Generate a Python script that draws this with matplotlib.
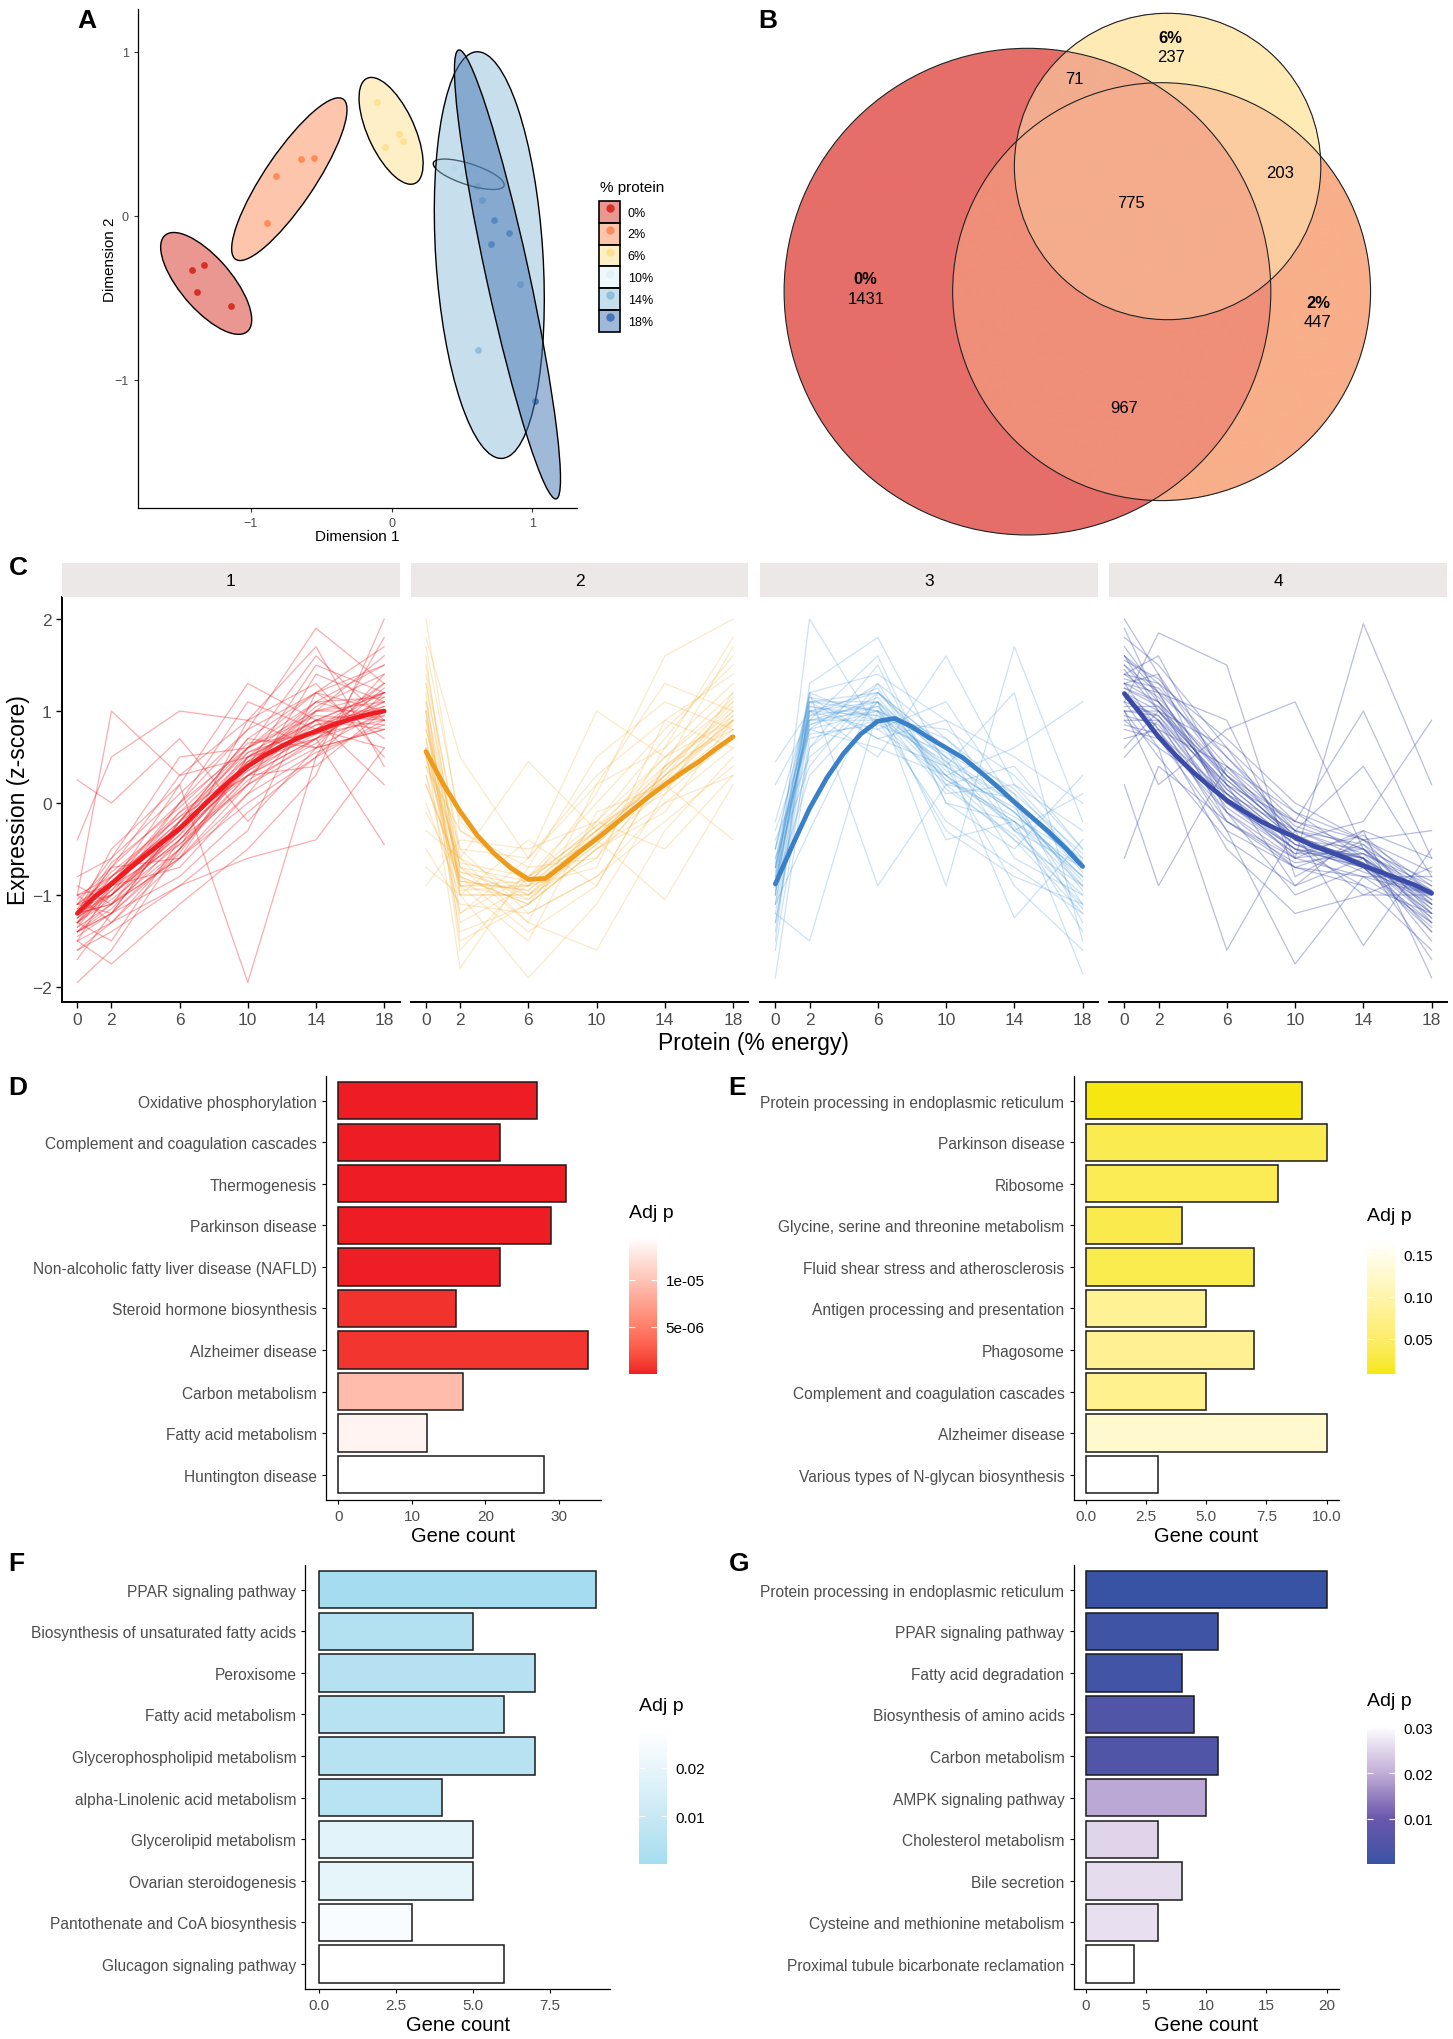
import numpy as np
import matplotlib
matplotlib.use("Agg")
import matplotlib.pyplot as plt
from matplotlib.patches import Ellipse, Circle, Patch
from matplotlib.lines import Line2D
from matplotlib.colors import ListedColormap, Normalize, to_rgb, to_rgba
from matplotlib.cm import ScalarMappable

plt.rcParams['font.family'] = ['Liberation Sans', 'DejaVu Sans']

W, H = 1453, 2040
GREY = '#4D4D4D'

# ------------------------------
# Data
# ------------------------------
# A) MDS of samples
protein_groups = ['0%', '2%', '6%', '10%', '14%', '18%']
group_colors = ['#D73027', '#FC8D59', '#FEE090', '#E0F3F8', '#91BFDB', '#4575B4']
dim1 = [[-1.416, -1.329, -1.378, -1.141],
        [-0.644, -0.552, -0.821, -0.886],
        [-0.103, 0.052, 0.082, -0.046],
        [0.44, 0.50, 0.60, 0.65],
        [0.606, 0.644, 0.913, 0.611],
        [0.728, 0.834, 0.709, 1.019]]
dim2 = [[-0.331, -0.301, -0.466, -0.551],
        [0.348, 0.350, 0.239, -0.047],
        [0.694, 0.500, 0.457, 0.417],
        [0.29, 0.24, 0.27, 0.21],
        [0.182, 0.094, -0.417, -0.818],
        [-0.026, -0.103, -0.175, -1.126]]

# B) Venn counts
venn_sets = ['0%', '2%', '6%']
only_0, only_2, only_6 = 1431, 447, 237
both_0_2, both_0_6, both_2_6 = 967, 71, 203
all_three = 775

# C) expression clusters
protein_levels = [0, 2, 6, 10, 14, 18]
cluster_ids = ['1', '2', '3', '4']
c1_genes = [
    [-1.2, -1.0, -0.3, 0.5, 0.9, 1.0], [-1.4, -1.2, -0.5, 0.3, 0.8, 1.1],
    [-1.0, -0.8, -0.1, 0.6, 1.1, 0.9], [-1.6, -1.3, -0.6, 0.2, 0.7, 1.3],
    [-1.1, -0.6, 0.1, 0.8, 1.2, 0.7], [-1.3, -1.5, -0.4, 0.4, 1.5, 1.2],
    [-0.9, -1.1, -0.2, 0.7, 0.6, 1.4], [-1.5, -0.9, -0.7, 0.1, 1.0, 1.6],
    [-1.2, -0.7, 0.3, 0.9, 1.3, 0.5], [-1.95, -1.6, -0.5, 0.4, 1.0, 1.2],
    [-1.1, -1.2, -0.8, -0.1, 0.5, 1.8], [-1.4, -1.0, 0.0, 1.1, 0.8, 0.6],
    [-0.4, 0.5, 1.0, 0.9, 1.7, 0.4], [-1.3, -0.8, -0.3, 0.3, 0.4, 1.0],
    [-1.0, -1.3, -0.9, -0.3, 1.2, 1.5], [-1.7, -1.2, -0.2, 0.6, 1.6, 0.9],
    [-1.2, -0.5, 0.2, 1.3, 0.9, 0.2], [-1.5, -1.75, -1.1, -0.5, 0.3, 2.0],
    [0.25, 0.0, 0.7, -0.2, 0.6, 0.8], [-1.2, -0.9, 0.2, -1.95, 0.5, 0.9],
    [-1.0, 1.0, 0.3, 0.5, 0.9, 1.2], [-1.1, -1.0, -0.4, 0.2, 1.4, 1.1],
    [-1.4, -1.1, -0.6, 0.5, 0.7, -0.45], [-1.3, -0.9, 0.0, 0.8, 1.9, 1.3],
    [-1.6, -1.4, -0.9, -0.6, -0.4, 0.6], [-1.2, -1.1, -0.3, 0.4, 1.1, 1.5],
    [-0.8, -0.6, 0.5, 0.6, 1.0, 1.0], [-1.5, -1.3, -0.5, 0.9, 0.6, 0.8],
    [-1.2, -0.7, -0.6, 0.0, 0.5, 1.2], [-1.4, -1.2, -0.2, 0.7, 1.2, 1.7],
    [-1.25, -0.95, -0.35, 0.35, 0.75, 1.05], [-1.1, -0.85, -0.2, 0.5, 0.85, 0.95],
    [-1.3, -1.05, -0.45, 0.3, 0.7, 1.15], [-1.15, -0.75, -0.15, 0.55, 0.9, 0.85],
    [-1.35, -0.9, -0.3, 0.45, 1.0, 1.1], [-1.2, -1.1, -0.5, 0.25, 0.65, 1.25],
    [-1.05, -0.7, 0.0, 0.6, 0.95, 0.9], [-1.4, -1.15, -0.4, 0.4, 0.8, 1.2],
    [-1.2, -0.8, -0.25, 0.45, 0.7, 0.95], [-1.3, -0.95, -0.1, 0.35, 0.85, 1.05],
    [-1.15, -1.0, -0.35, 0.55, 0.8, 1.3], [-1.25, -0.85, -0.2, 0.3, 0.9, 0.8],
    [-1.0, -0.9, -0.45, 0.2, 0.6, 1.0], [-1.45, -1.2, -0.55, 0.5, 1.1, 1.15],
    [-1.2, -0.65, -0.05, 0.65, 0.75, 0.9], [-1.3, -1.0, -0.3, 0.4, 1.05, 1.4],
    [-1.1, -0.8, -0.15, 0.3, 0.7, 1.1], [-1.35, -1.1, -0.6, 0.1, 0.55, 0.85],
    [-1.2, -0.9, -0.25, 0.6, 1.2, 1.0], [-1.25, -1.0, -0.4, 0.45, 0.9, 1.2],
]
c2_genes = [
    [0.5, -0.9, -0.9, -0.4, 0.2, 0.8], [1.5, -0.6, -1.0, -0.3, 0.5, 1.2],
    [2.0, -0.3, -0.7, -0.6, 0.3, 0.9], [1.0, -1.2, -0.8, 0.0, 0.8, 1.5],
    [-0.5, -1.1, -1.2, -0.8, -0.2, 0.4], [0.8, -0.5, -0.6, 0.2, 0.6, 1.8],
    [1.2, -1.5, -1.1, -0.5, 0.0, 0.6], [0.2, -0.8, -1.4, -0.9, 0.4, 1.0],
    [-0.9, -0.4, -0.5, -0.2, -0.5, 0.3], [1.7, -0.2, -0.9, -0.7, 0.9, 1.4],
    [0.0, -1.0, -1.9, -1.1, 0.1, 0.7], [0.6, -1.8, -0.7, 0.5, 1.1, 0.8],
    [1.3, -0.7, -1.3, -1.6, -0.3, 0.5], [-0.3, -0.6, 0.45, -0.3, 0.3, 1.1],
    [0.9, -1.3, -0.9, 0.1, 1.6, 2.0], [0.4, -0.3, -0.8, -0.4, -1.05, 0.2],
    [1.8, 0.5, -0.6, 1.0, 0.5, 0.9], [-0.7, -1.0, -1.0, -0.6, 0.6, 1.3],
    [1.1, -0.9, -1.5, -0.1, 0.2, -0.4], [0.7, -1.4, -1.1, -0.2, 0.7, 1.6],
    [1.4, -0.5, -1.2, -0.8, 0.0, 0.3], [0.3, -1.2, -0.6, 0.3, 0.9, 0.6],
    [-0.1, -0.8, -1.1, -0.5, -0.1, 0.9], [1.6, -1.0, -0.4, -0.9, 0.4, 1.7],
    [0.5, -0.6, -1.3, 0.2, 1.3, 1.0], [1.0, -1.6, -0.8, -0.3, 0.1, 1.2],
    [0.6, -0.85, -0.95, -0.35, 0.3, 0.9], [0.9, -0.75, -1.0, -0.45, 0.25, 1.0],
    [0.3, -0.9, -0.85, -0.25, 0.4, 0.8], [1.1, -0.7, -1.05, -0.4, 0.2, 0.95],
    [0.5, -0.95, -0.9, -0.3, 0.35, 1.05], [0.8, -0.8, -1.1, -0.5, 0.15, 0.75],
    [0.4, -0.65, -0.8, -0.2, 0.5, 1.1], [1.3, -0.85, -0.95, -0.35, 0.3, 0.85],
    [0.7, -1.0, -1.0, -0.4, 0.4, 0.95], [0.2, -0.75, -0.9, -0.3, 0.25, 0.7],
    [1.0, -0.9, -1.05, -0.45, 0.35, 1.15], [0.6, -0.7, -0.85, -0.25, 0.2, 0.9],
]
c3_genes = [
    [-0.9, 1.0, 1.1, 0.5, -0.1, -0.8], [-1.3, 0.8, 1.3, 0.2, -0.4, -1.2],
    [-0.5, 1.2, 0.9, 0.8, 0.3, -0.5], [-1.9, 0.6, 1.5, 0.0, -0.2, -1.4],
    [-0.2, 1.1, 0.7, 0.9, 0.5, 0.0], [-1.1, -0.3, 1.2, 0.6, -0.6, -1.0],
    [-0.7, 0.9, 1.0, 0.1, 0.2, -0.3], [-1.5, 1.3, 1.8, 0.4, -0.9, -1.6],
    [0.45, 1.0, 0.5, 1.6, 0.2, -0.6], [-1.0, 2.0, 0.8, 0.3, -0.4, -0.9],
    [-0.4, 0.5, 1.1, -0.9, 1.7, -0.2], [-1.2, -1.5, 1.0, 0.7, 0.0, -1.85],
    [-0.8, 1.2, 1.4, 0.9, -0.3, -0.7], [-1.6, 0.7, 0.9, -0.2, -0.7, -1.2],
    [-0.3, 0.8, 0.6, 0.3, 0.6, 1.1], [-1.4, 1.1, 1.2, 0.5, -1.25, -0.4],
    [-0.6, 0.4, 1.3, 0.7, 0.1, -1.3], [-1.0, 1.2, -0.9, 0.2, 0.4, -0.5],
    [0.2, 0.9, 1.6, 0.0, -0.5, 0.3], [-1.1, 1.0, 0.8, 1.1, 0.0, -1.1],
    [-0.9, 0.3, 1.1, -0.4, -0.2, -0.8], [-0.5, 1.15, 0.7, 0.4, 1.2, -1.5],
    [-1.3, 0.6, 1.2, 0.6, -0.3, 0.1], [-0.7, 1.1, 1.0, -0.3, -0.8, -1.1],
    [-0.85, 0.95, 1.05, 0.4, -0.1, -0.85], [-0.7, 0.85, 1.15, 0.3, -0.2, -0.7],
    [-1.0, 1.05, 0.95, 0.5, 0.0, -0.95], [-0.6, 0.8, 1.0, 0.25, -0.15, -0.6],
    [-0.9, 1.0, 1.2, 0.45, -0.3, -1.0], [-1.1, 0.9, 0.9, 0.2, 0.05, -0.75],
    [-0.75, 1.1, 1.1, 0.35, -0.05, -0.9], [-0.5, 0.75, 0.85, 0.55, 0.1, -0.55],
    [-0.95, 0.95, 1.25, 0.15, -0.35, -1.1], [-0.8, 1.0, 0.95, 0.4, -0.1, -0.8],
    [-1.2, 0.85, 1.05, 0.3, -0.25, -1.15], [-0.65, 1.15, 1.0, 0.6, 0.15, -0.65],
    [-0.85, 0.9, 1.1, 0.25, -0.2, -0.9], [-0.7, 1.05, 0.9, 0.45, 0.0, -0.7],
]
c4_genes = [
    [1.2, 1.0, 0.2, -0.4, -0.7, -1.0], [1.6, 1.2, 0.5, -0.2, -0.5, -1.3],
    [0.8, 0.7, -0.1, -0.7, -0.8, -0.8], [2.0, 1.4, 0.3, -0.3, -0.6, -1.5],
    [1.0, 0.5, -0.4, -0.9, -0.3, -0.6], [1.4, 1.3, 0.7, 0.0, -0.4, -1.1],
    [0.5, 0.9, 0.0, -0.5, -0.9, -1.2], [1.8, 1.5, 0.6, -0.1, -0.6, -1.7],
    [-0.6, 0.4, -0.2, -0.6, 1.95, 0.2], [1.1, 1.85, 1.5, -0.8, -0.4, -0.9],
    [1.3, 0.8, -0.5, -1.2, -1.0, -0.7], [0.2, -0.9, 0.4, -0.4, -0.2, 0.9],
    [1.5, 1.1, 0.1, -0.5, -0.7, -1.4], [0.9, 0.6, -1.6, -0.3, -1.55, -0.5],
    [1.7, 1.2, 0.9, -0.6, -0.3, -1.9], [1.2, 0.9, -0.3, -1.75, -0.8, -1.0],
    [0.6, 1.0, 0.3, -0.2, 1.0, -0.6], [1.4, 1.6, 0.2, -0.9, -0.6, -1.2],
    [1.0, 0.2, 0.8, 1.1, -0.5, -1.1], [1.9, 1.1, -0.2, -0.7, -0.9, -1.6],
    [0.7, 0.8, 0.4, -0.1, -0.4, -0.3], [1.3, 1.4, -0.1, -1.0, -0.7, -1.3],
    [1.1, 0.6, 0.1, -0.3, 0.4, -0.8], [1.6, 1.0, 0.6, -0.4, -1.0, -1.0],
    [1.25, 1.05, 0.15, -0.45, -0.6, -1.1], [1.1, 0.95, 0.0, -0.55, -0.55, -0.95],
    [1.4, 1.15, 0.25, -0.35, -0.65, -1.25], [0.95, 0.85, -0.1, -0.6, -0.5, -0.85],
    [1.3, 1.1, 0.35, -0.3, -0.45, -1.2], [1.5, 1.2, 0.05, -0.5, -0.7, -1.35],
    [1.0, 1.0, 0.2, -0.4, -0.6, -1.05], [1.2, 0.8, -0.2, -0.65, -0.55, -0.9],
    [1.35, 1.25, 0.4, -0.25, -0.5, -1.15], [0.85, 0.75, 0.1, -0.45, -0.75, -1.0],
    [1.6, 1.3, 0.3, -0.4, -0.6, -1.4], [1.15, 0.9, -0.05, -0.55, -0.35, -1.0],
    [1.05, 1.05, 0.25, -0.35, -0.65, -1.2], [1.45, 1.0, 0.1, -0.6, -0.8, -1.3],
    [0.9, 0.9, 0.2, -0.2, -0.4, -0.75], [1.3, 1.2, 0.0, -0.5, -0.6, -1.15],
    [1.2, 0.7, -0.3, -0.7, -0.45, -0.95], [1.55, 1.35, 0.5, -0.3, -0.55, -1.25],
    [1.0, 0.95, 0.15, -0.45, -0.7, -1.1], [1.25, 1.1, 0.3, -0.4, -0.5, -1.05],
]
smooth_x = list(range(19))
c1_smooth = [-1.2, -1.02, -0.88, -0.72, -0.57, -0.42, -0.28, -0.1, 0.08, 0.25,
             0.4, 0.52, 0.62, 0.71, 0.78, 0.85, 0.91, 0.96, 1.0]
c2_smooth = [0.56, 0.21, -0.09, -0.35, -0.55, -0.71, -0.83, -0.82, -0.68, -0.53,
             -0.39, -0.24, -0.09, 0.06, 0.2, 0.33, 0.45, 0.59, 0.72]
c3_smooth = [-0.88, -0.46, -0.06, 0.27, 0.54, 0.75, 0.89, 0.92, 0.83, 0.71,
             0.6, 0.49, 0.34, 0.18, 0.01, -0.15, -0.31, -0.49, -0.69]
c4_smooth = [1.19, 0.96, 0.72, 0.52, 0.34, 0.18, 0.03, -0.09, -0.2, -0.29,
             -0.37, -0.46, -0.53, -0.6, -0.68, -0.75, -0.82, -0.89, -0.98]

# D-G) KEGG enrichment
d_terms = ['Oxidative phosphorylation', 'Complement and coagulation cascades',
           'Thermogenesis', 'Parkinson disease',
           'Non-alcoholic fatty liver disease (NAFLD)', 'Steroid hormone biosynthesis',
           'Alzheimer disease', 'Carbon metabolism', 'Fatty acid metabolism',
           'Huntington disease']
d_count = [27, 22, 31, 29, 22, 16, 34, 17, 12, 28]
d_padj = [2e-09, 5e-09, 1.5e-08, 4e-08, 6e-08, 7e-07, 8e-07, 9.4e-06, 1.36e-05, 1.45e-05]

e_terms = ['Protein processing in endoplasmic reticulum', 'Parkinson disease',
           'Ribosome', 'Glycine, serine and threonine metabolism',
           'Fluid shear stress and atherosclerosis', 'Antigen processing and presentation',
           'Phagosome', 'Complement and coagulation cascades', 'Alzheimer disease',
           'Various types of N-glycan biosynthesis']
e_count = [9, 10, 8, 4, 7, 5, 7, 5, 10, 3]
e_padj = [0.0083, 0.035, 0.038, 0.033, 0.034, 0.083, 0.080, 0.077, 0.127, 0.167]

f_terms = ['PPAR signaling pathway', 'Biosynthesis of unsaturated fatty acids',
           'Peroxisome', 'Fatty acid metabolism', 'Glycerophospholipid metabolism',
           'alpha-Linolenic acid metabolism', 'Glycerolipid metabolism',
           'Ovarian steroidogenesis', 'Pantothenate and CoA biosynthesis',
           'Glucagon signaling pathway']
f_count = [9, 5, 7, 6, 7, 4, 5, 5, 3, 6]
f_padj = [0.0002, 0.0042, 0.0045, 0.0047, 0.005, 0.0055, 0.0185, 0.0195, 0.0254, 0.0276]

g_terms = ['Protein processing in endoplasmic reticulum', 'PPAR signaling pathway',
           'Fatty acid degradation', 'Biosynthesis of amino acids', 'Carbon metabolism',
           'AMPK signaling pathway', 'Cholesterol metabolism', 'Bile secretion',
           'Cysteine and methionine metabolism', 'Proximal tubule bicarbonate reclamation']
g_count = [20, 11, 8, 9, 11, 10, 6, 8, 6, 4]
g_padj = [0.0001, 0.0012, 0.0015, 0.0045, 0.0045, 0.0195, 0.025, 0.026, 0.0265, 0.0305]


# ------------------------------
# Helpers
# ------------------------------
fig = plt.figure(figsize=(W / 100, H / 100), dpi=100)


def box(x0, y0, x1, y1):
    # pixel box (top-left origin) -> figure fraction rect
    return [x0 / W, 1 - y1 / H, (x1 - x0) / W, (y1 - y0) / H]


def ftext(x, y, s, **kw):
    kw.setdefault('ha', 'center')
    kw.setdefault('va', 'center')
    return fig.text(x / W, 1 - y / H, s, **kw)


M_RGB = np.array([[0.4124, 0.3576, 0.1805],
                  [0.2126, 0.7152, 0.0722],
                  [0.0193, 0.1192, 0.9505]])
WHITE_XYZ = np.array([0.95047, 1.0, 1.08883])


def srgb_to_lab(rgb):
    c = np.asarray(rgb, float)
    lin = np.where(c <= 0.04045, c / 12.92, ((c + 0.055) / 1.055) ** 2.4)
    xyz = lin @ M_RGB.T / WHITE_XYZ
    f = np.where(xyz > 0.008856, np.cbrt(xyz), 7.787 * xyz + 16 / 116)
    return np.stack([116 * f[..., 1] - 16,
                     500 * (f[..., 0] - f[..., 1]),
                     200 * (f[..., 1] - f[..., 2])], -1)


def lab_to_srgb(lab):
    fy = (lab[..., 0] + 16) / 116
    f = np.stack([fy + lab[..., 1] / 500, fy, fy - lab[..., 2] / 200], -1)
    xyz = np.where(f > 0.206893, f ** 3, (f - 16 / 116) / 7.787) * WHITE_XYZ
    lin = np.clip(xyz @ np.linalg.inv(M_RGB).T, 0, 1)
    c = np.where(lin <= 0.0031308, 12.92 * lin, 1.055 * lin ** (1 / 2.4) - 0.055)
    return np.clip(c, 0, 1)


def lab_cmap(stops, n=256):
    # ggplot-like gradient: interpolate in CIELAB
    labs = srgb_to_lab(np.array([to_rgb(s) for s in stops]))
    t = np.linspace(0, 1, n)
    pos = np.linspace(0, 1, len(stops))
    out = np.stack([np.interp(t, pos, labs[:, i]) for i in range(3)], -1)
    return ListedColormap(lab_to_srgb(out))


def classic(ax, lw=0.9):
    for s in ['top', 'right']:
        ax.spines[s].set_visible(False)
    for s in ['left', 'bottom']:
        ax.spines[s].set_linewidth(lw)


# ------------------------------
# A) MDS plot with ellipses
# ------------------------------
axA = fig.add_axes(box(138, 10, 577, 509))
classic(axA)
K = 2.65
for xs, ys, col in zip(dim1, dim2, group_colors):
    axA.scatter(xs, ys, s=24, color=col, zorder=1, linewidths=0)
for xs, ys, col in zip(dim1, dim2, group_colors):
    cov = np.cov(xs, ys)
    vals, vecs = np.linalg.eigh(cov)
    ang = np.degrees(np.arctan2(vecs[1, 1], vecs[0, 1]))
    axA.add_patch(Ellipse((np.mean(xs), np.mean(ys)), 2 * K * np.sqrt(vals[1]),
                          2 * K * np.sqrt(vals[0]), angle=ang,
                          facecolor=to_rgba(col, 0.5), edgecolor='black',
                          linewidth=1.0, zorder=2))
axA.set_xlim(-1.80, 1.316)
axA.set_ylim(-1.78, 1.259)
axA.set_xticks([-1, 0, 1])
axA.set_yticks([-1, 0, 1])
axA.tick_params(labelsize=9, labelcolor=GREY, length=3, width=0.8, color='#333333')
ftext(357, 537, 'Dimension 1', fontsize=11)
ftext(110, 260, 'Dimension 2', fontsize=11, rotation=90)

handles = [(Patch(facecolor=to_rgba(c, 0.5), edgecolor='black', linewidth=1.2),
            Line2D([], [], marker='o', ls='', color=c, markersize=5))
           for c in group_colors]
ftext(600, 188, '% protein', fontsize=11, ha='left')
fig.legend(handles, protein_groups, loc='upper left',
           bbox_to_anchor=(599 / W, 1 - 202 / H), frameon=False, borderpad=0,
           borderaxespad=0, handlelength=1.7, handleheight=2.3, labelspacing=0.0,
           handletextpad=0.6, fontsize=9)

# ------------------------------
# B) Venn diagram (area proportional circles, mixed overlap colours)
# ------------------------------
axB = fig.add_axes(box(754, 0, 1453, 546))
vx0, vx1, vy0, vy1 = -64.0, 99.6, -59.3, 68.5
axB.set_xlim(vx0, vx1)
axB.set_ylim(vy0, vy1)
axB.axis('off')
totals = [only_0 + both_0_2 + both_0_6 + all_three,
          only_2 + both_0_2 + both_2_6 + all_three,
          only_6 + both_0_6 + both_2_6 + all_three]
venn_centers = [(0.0, 0.0), (31.4, 0.0), (32.8, 29.3)]
venn_cols = ['#E66E69', '#F8AF8A', '#FEEAB4']
gx, gy = np.meshgrid(np.linspace(vx0, vx1, 1400), np.linspace(vy0, vy1, 1100))
members = [((gx - cx) ** 2 + (gy - cy) ** 2 <= tot) for (cx, cy), tot
           in zip(venn_centers, totals)]
n_in = sum(m.astype(float) for m in members)
rgb = sum(m[..., None] * np.array(to_rgb(c)) for m, c in zip(members, venn_cols))
rgb = rgb / np.maximum(n_in, 1)[..., None]
img = np.dstack([rgb, (n_in > 0).astype(float)])
axB.imshow(img, extent=(vx0, vx1, vy0, vy1), origin='lower', aspect='auto',
           interpolation='antialiased')
for (cx, cy), tot in zip(venn_centers, totals):
    axB.add_patch(Circle((cx, cy), np.sqrt(tot), facecolor='none',
                         edgecolor='#222222', linewidth=0.8))
vfs = 12
axB.text(-37.9, 3.1, venn_sets[0], fontsize=vfs, fontweight='bold', ha='center', va='center')
axB.text(-37.7, -1.6, str(only_0), fontsize=vfs, ha='center', va='center')
axB.text(68.0, -2.6, venn_sets[1], fontsize=vfs, fontweight='bold', ha='center', va='center')
axB.text(68.0, -6.9, str(only_2), fontsize=vfs, ha='center', va='center')
axB.text(33.5, 59.5, venn_sets[2], fontsize=vfs, fontweight='bold', ha='center', va='center')
axB.text(33.5, 55.0, str(only_6), fontsize=vfs, ha='center', va='center')
axB.text(10.9, 49.9, str(both_0_6), fontsize=vfs, ha='center', va='center')
axB.text(59.1, 27.8, str(both_2_6), fontsize=vfs, ha='center', va='center')
axB.text(24.2, 20.8, str(all_three), fontsize=vfs, ha='center', va='center')
axB.text(22.6, -27.0, str(both_0_2), fontsize=vfs, ha='center', va='center')

# ------------------------------
# C) Expression profiles per cluster
# ------------------------------
panel_x = [(62, 399.5), (410.6, 748.4), (760, 1098), (1109, 1447)]
genes = [c1_genes, c2_genes, c3_genes, c4_genes]
smooths = [c1_smooth, c2_smooth, c3_smooth, c4_smooth]
line_cols = ['#EE1D23', '#F2A51C', '#4A9ADB', '#3B4BA8']
smooth_cols = ['#EE1D23', '#EE9A1A', '#3A80C8', '#3B4BA8']
line_alpha = [0.36, 0.24, 0.28, 0.36]
for i, (x0, x1) in enumerate(panel_x):
    ax = fig.add_axes(box(x0, 598, x1, 1002.7))
    classic(ax, lw=1.4)
    for g in genes[i]:
        ax.plot(protein_levels, g, color=line_cols[i], alpha=line_alpha[i], lw=0.9)
    ax.plot(smooth_x, smooths[i], color=smooth_cols[i], lw=3.4,
            solid_capstyle='round')
    ax.set_xlim(-0.9, 18.9)
    ax.set_ylim(-2.16, 2.24)
    ax.set_xticks(protein_levels)
    ax.set_yticks([-2, -1, 0, 1, 2])
    ax.tick_params(labelsize=12.5, labelcolor=GREY, length=4, width=1.0)
    if i > 0:
        ax.spines['left'].set_visible(False)
        ax.tick_params(left=False, labelleft=False)
    sax = fig.add_axes(box(x0, 564, x1, 598))
    sax.set_facecolor('#ECE8E8')
    sax.set_xticks([])
    sax.set_yticks([])
    for s in sax.spines.values():
        s.set_visible(False)
    sax.text(0.5, 0.5, cluster_ids[i], fontsize=12.5, ha='center', va='center',
             transform=sax.transAxes)
ftext(753.5, 1044, 'Protein (% energy)', fontsize=16.5)
ftext(18.6, 800, 'Expression (z-score)', fontsize=16.5, rotation=90)


# ------------------------------
# D-G) enrichment bar charts
# ------------------------------
def bar_panel(rect, cb_rect, terms, counts, padj, cmap, xticks, xticklabels,
              cb_ticks, cb_labels):
    ax = fig.add_axes(box(*rect))
    classic(ax)
    norm = Normalize(min(padj), max(padj))
    y = np.arange(len(terms))
    ax.barh(y, counts, height=0.9, color=cmap(norm(padj)), edgecolor='#1A1A1A',
            linewidth=1.1)
    ax.set_ylim(len(terms) - 0.4, -0.6)
    xmax = max(counts)
    ax.set_xlim(-0.05 * xmax, 1.05 * xmax)
    ax.set_yticks(y)
    ax.set_yticklabels(terms)
    ax.set_xticks(xticks)
    ax.set_xticklabels(xticklabels)
    ax.tick_params(axis='y', labelsize=11.2, labelcolor=GREY, length=3, width=0.8)
    ax.tick_params(axis='x', labelsize=11, labelcolor=GREY, length=3, width=0.8)
    ftext((rect[0] + rect[2]) / 2, rect[3] + 36, 'Gene count', fontsize=14.5)

    cax = fig.add_axes(box(*cb_rect))
    cb = fig.colorbar(ScalarMappable(norm=norm, cmap=cmap), cax=cax)
    cb.outline.set_visible(False)
    cb.set_ticks(cb_ticks)
    cb.set_ticklabels(cb_labels)
    cax.minorticks_off()
    cax.tick_params(which='major', color='white', length=4.5, width=0.8,
                    direction='in', left=True, right=True, labelsize=11, pad=6)
    ftext(cb_rect[0], cb_rect[1] - 25, 'Adj p', fontsize=14, ha='left')


bar_panel((326, 1076.7, 600.6, 1500.7), (629.4, 1238, 657.3, 1375),
          d_terms, d_count, d_padj, lab_cmap(['#EE1D23', '#FFFFFF']),
          [0, 10, 20, 30], ['0', '10', '20', '30'], [5e-06, 1e-05], ['5e-06', '1e-05'])
bar_panel((1073.5, 1076.7, 1338.6, 1500.7), (1367, 1241.7, 1395, 1375),
          e_terms, e_count, e_padj, lab_cmap(['#F5E70F', '#FFFFFF']),
          [0, 2.5, 5, 7.5, 10], ['0.0', '2.5', '5.0', '7.5', '10.0'],
          [0.05, 0.10, 0.15], ['0.05', '0.10', '0.15'])
bar_panel((305.4, 1565.7, 609.9, 1990), (638.7, 1731.7, 667.1, 1865),
          f_terms, f_count, f_padj, lab_cmap(['#A6DCEF', '#FFFFFF']),
          [0, 2.5, 5, 7.5], ['0.0', '2.5', '5.0', '7.5'],
          [0.01, 0.02], ['0.01', '0.02'])
bar_panel((1073.5, 1565.7, 1338.6, 1990), (1367, 1726.7, 1395, 1865),
          g_terms, g_count, g_padj,
          lab_cmap(['#3953A4', '#6A58AC', '#C3B0D8', '#FFFFFF']),
          [0, 5, 10, 15, 20], ['0', '5', '10', '15', '20'],
          [0.01, 0.02, 0.03], ['0.01', '0.02', '0.03'])

# ------------------------------
# Panel letters
# ------------------------------
for letter, (x, y) in zip('ABCDEFG', [(87, 21), (768, 21), (18.6, 568), (17.5, 1088),
                                        (737, 1088), (16, 1564), (739, 1564)]):
    ftext(x, y, letter, fontsize=19, fontweight='bold')

fig.savefig('out.png', dpi=100)
